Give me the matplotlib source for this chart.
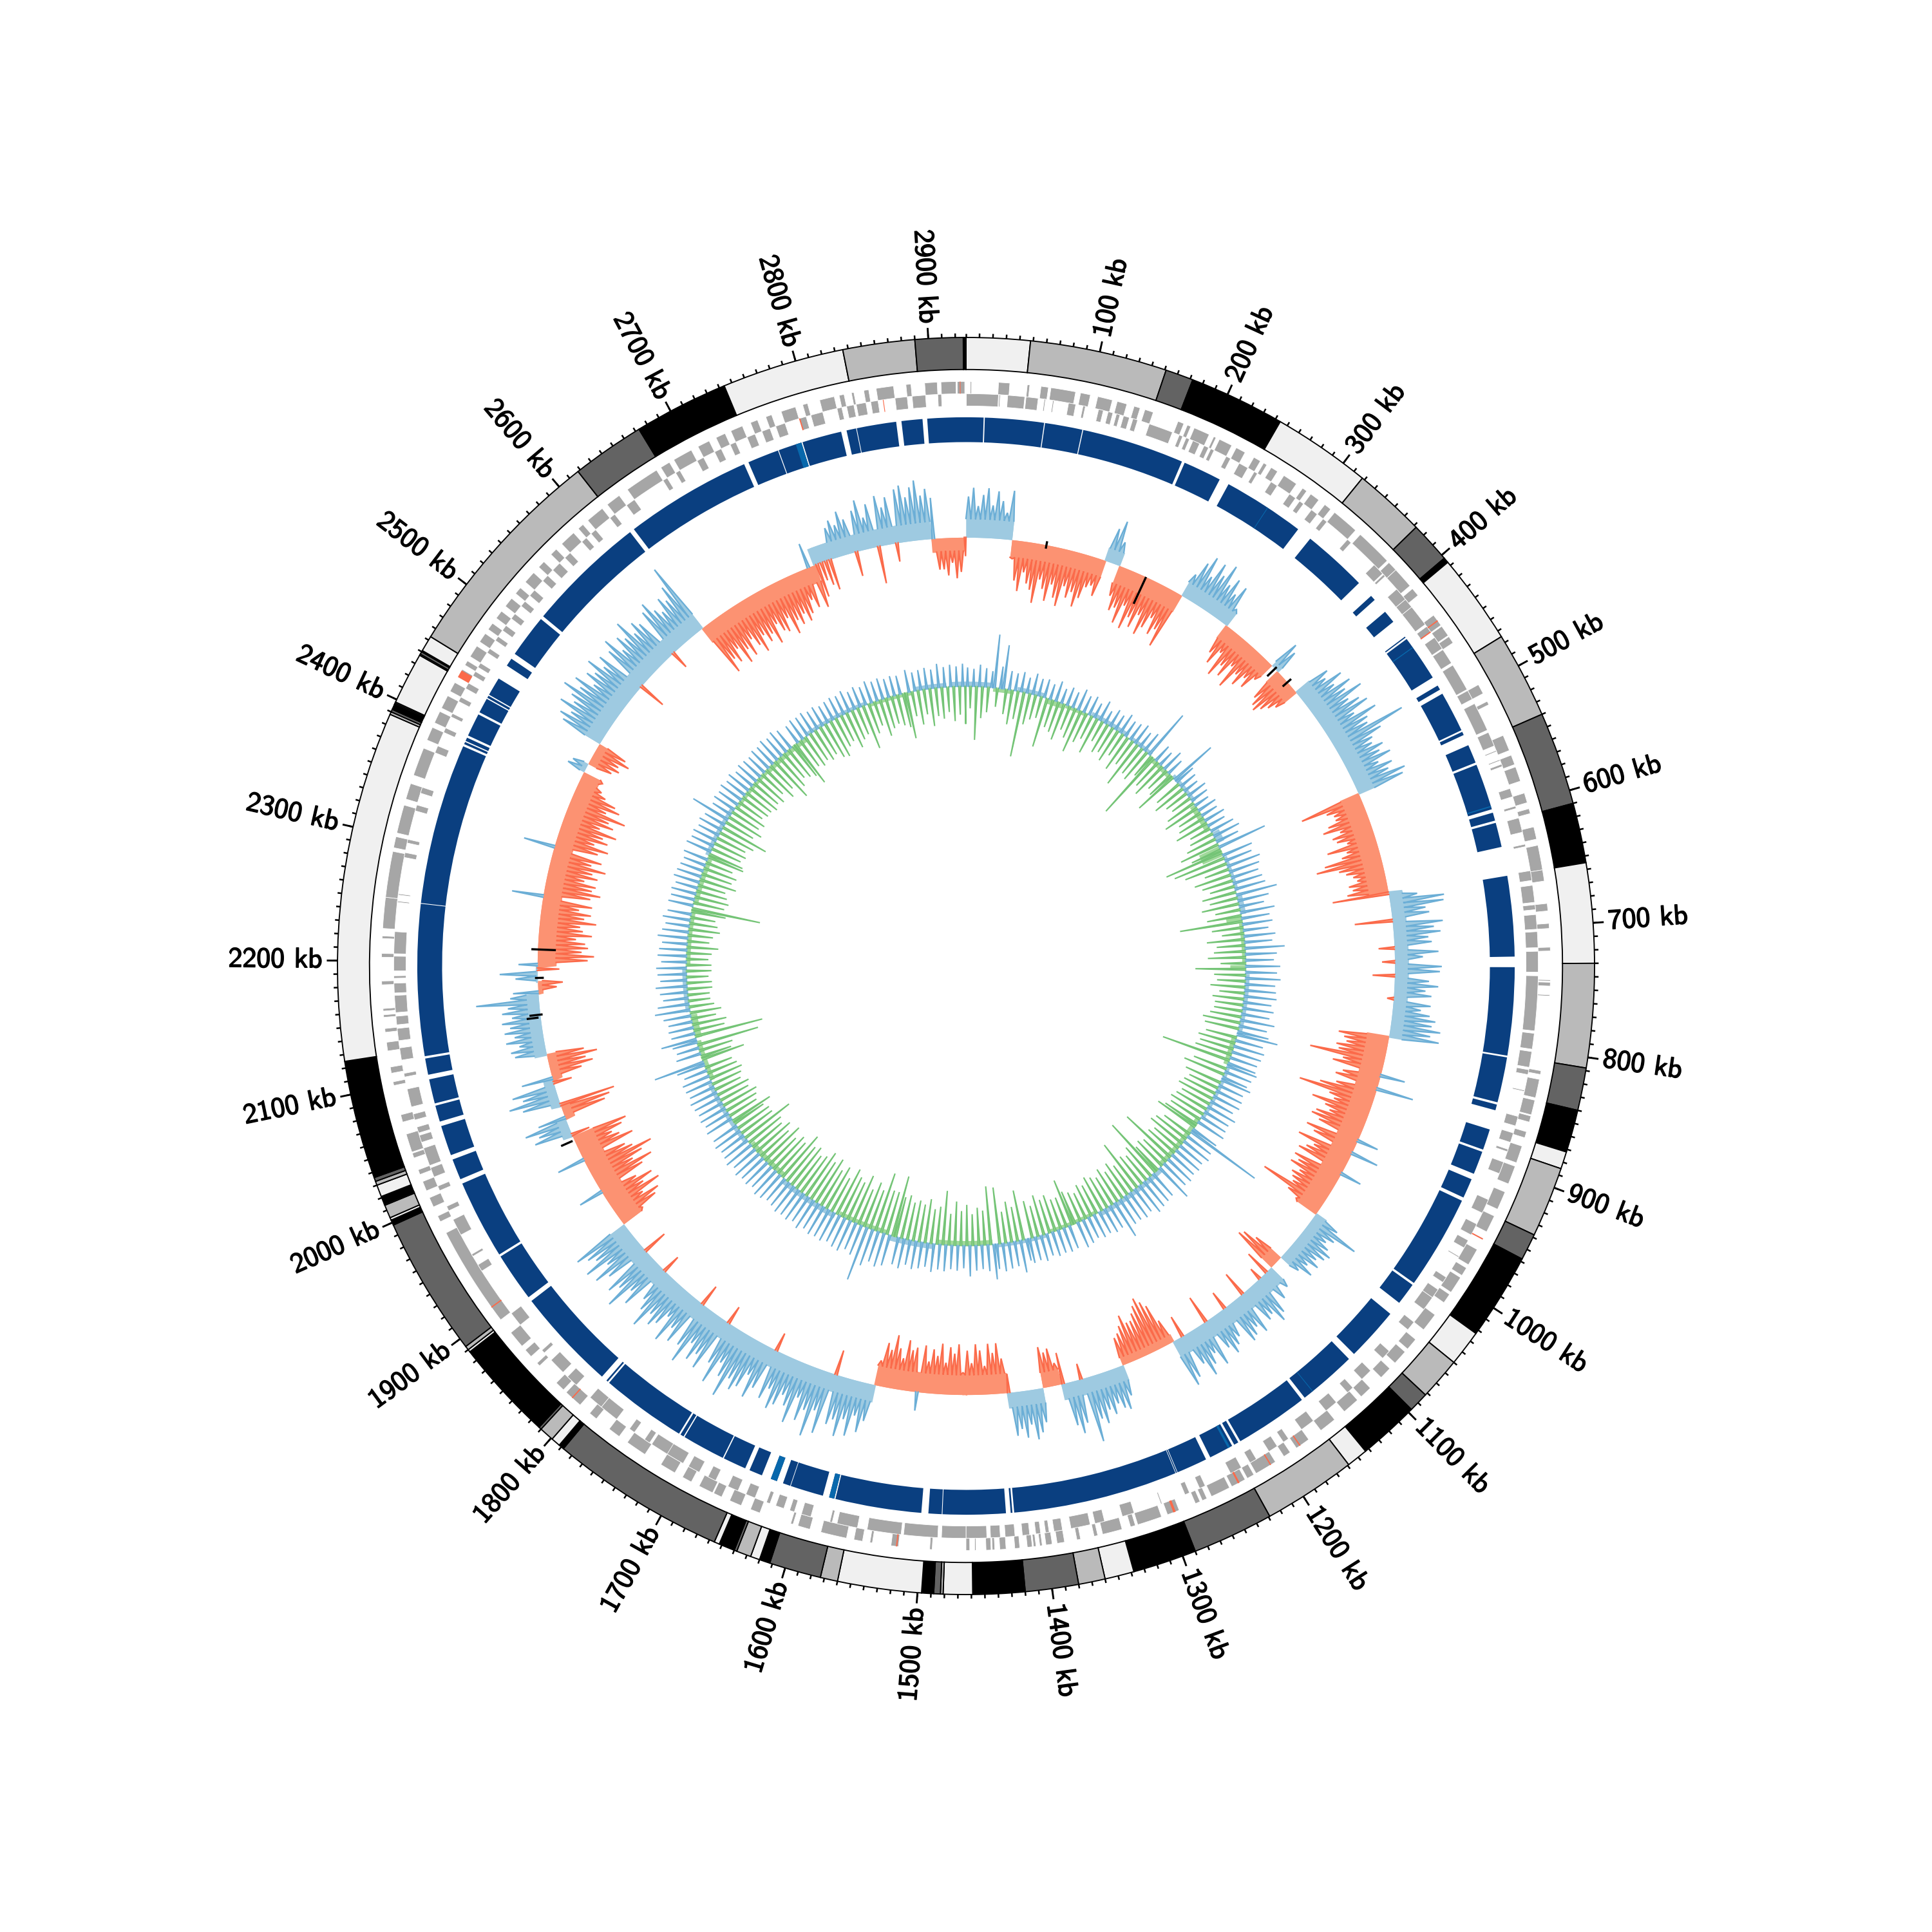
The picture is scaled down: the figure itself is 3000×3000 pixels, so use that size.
import numpy as np
import matplotlib
matplotlib.use("Agg")
import matplotlib.pyplot as plt
import matplotlib.patheffects as pe

GENOME_KB = 2928
WINDOW_KB = 5

# outer grey ring: block end (kb) and shade index
ring_ends = [48,151,172,244,318,372,403,407,475,540,610,655,730,808,840,872,885,938,958,1023,1050,1082,1097,1143,1159,1229,1290,1338,1360,1380,1420,1459,1481,1483,1488,1497,1560,1573,1612,1620,1627,1638,1640,1652,1656,1788,1792,1799,1810,1812,1888,1890,1893,1998,2002,2004,2014,2015,2021,2030,2033,2036,2125,2388,2390,2392,2396,2397,2398,2437,2438,2440,2441,2453,2618,2673,2744,2836,2890,2926,2928]
ring_shade = [0,1,2,3,0,1,2,3,0,1,2,3,0,1,2,3,0,1,2,3,0,1,2,3,0,1,2,3,0,1,2,3,0,1,2,3,0,1,2,3,0,1,2,3,0,2,3,0,1,2,3,0,1,2,3,0,1,2,3,0,1,2,3,0,1,2,3,2,1,0,1,2,3,0,1,2,3,0,1,2,3]
ring_colors = ["#f0f0f0","#bababa","#636363","#000000"]

# gaps in the blue track and the lighter slivers inside it
blue_gaps = [(15,16),(66.6,67.4),(99.6,100.4),(188.5,191),(224,232.5),(303,316),(372,387),(391.6,405),(416,432),(433,434.5),(474,482),(486,490),(525,526.5),(529.5,539),(555,557),(597,600),(607,609),(630,655),(724,733),(808.5,810),(849,851),(856,873),(891,893),(913,918),(935,938),(1019,1021),(1040,1052),(1098,1104),(1154,1157),(1220,1222),(1226,1228),(1249,1253),(1279.5,1280),(1281,1281.5),(1423,1424.5),(1426,1428),(1428,1430),(1484,1484.6),(1496,1502),(1576,1577),(1581.5,1587),(1615.5,1616),(1622.5,1628),(1633.5,1641.6),(1653,1657),(1677,1678),(1715,1716),(1719,1720.5),(1794,1795.5),(1797,1802),(1890,1894),(1936,1938),(2006,2010),(2028,2032),(2058,2062),(2076,2078),(2099,2103),(2117,2119),(2249,2249.6),(2388,2390),(2392,2393),(2396,2398),(2418,2420),(2433,2434),(2436,2437),(2453,2466),(2473,2478),(2515,2518),(2621,2625),(2734,2738),(2765,2765.7),(2786,2787),(2821,2825.7),(2834,2834.6),(2868.5,2873),(2891,2895)]
blue_slivers = [(271,271.6),(443,443.8),(594,595),(1145,1145.6),(1230,1232),(1577,1581.5),(1628,1633.5),(2781,2786)]

forward_genes = [(3.5,4.5),(26,35),(49,51),(60,66),(68,88),(92,100),(106,118),(122,130),(136,141),(145,152),(173,178),(181,184),(187,200),(204,206),(209,220),(224,232),(240,246),(249,252),(256,262),(268,280),(286,290),(294,302),(308,314),(318,340),(345,375),(377,385),(385,402),(405,412),(432,442),(443,452),(453,459),(498,506),(513,516),(543,556),(560,568),(570,582),(592,600),(605,609),(620,630),(635,655),(655,664),(682,688),(698,702),(717,720),(743,744),(745,748),(755,756),(816,819),(823,838),(840,852),(853,858),(866,871),(878,892),(895,910),(917,932),(938,952),(958,959),(968,982),(985,992),(994,1008),(1010,1018),(1030,1045),(1055,1065),(1068,1080),(1086,1096),(1108,1118),(1122,1136),(1146,1160),(1172,1184),(1190,1196),(1204,1222),(1224,1230),(1232,1244),(1246,1262),(1266,1270),(1272,1276),(1290,1300),(1305,1325),(1327,1331),(1338,1354),(1358,1361),(1372,1375),(1385,1391),(1395,1400),(1403,1405),(1408,1410),(1411,1415),(1421,1425),(1432,1437),(1441,1443),(1444,1448),(1456,1457),(1461,1464),(1491,1493),(1518,1524),(1539,1541),(1547,1554),(1560,1581),(1590,1600),(1604,1606),(1632,1640),(1648,1658),(1665,1672),(1673,1685),(1692,1700),(1707,1720),(1735,1752),(1760,1770),(1783,1790),(1800,1815),(1818,1826),(1845,1848),(1855,1862),(1866,1880),(1893,1975),(1985,1990),(1998,2006),(2012,2020),(2026,2030),(2045,2060),(2040,2044),(2070,2076),(2100,2103),(2110,2115),(2128,2135),(2143,2146),(2155,2157),(2160,2162),(2181,2184),(2203,2206),(2218,2220),(2226,2251),(2251,2288),(2291,2300),(2303,2326),(2331,2344),(2351,2374),(2381,2392),(2396,2406),(2409,2420),(2424,2432),(2437,2444),(2448,2452),(2456,2466),(2470,2478),(2482,2488),(2493,2500),(2505,2513),(2518,2524),(2530,2540),(2546,2552),(2560,2566),(2572,2585),(2590,2595),(2600,2615),(2620,2632),(2640,2668),(2672,2680),(2684,2700),(2706,2716),(2722,2730),(2735,2745),(2752,2758),(2765,2770),(2778,2790),(2796,2800),(2810,2822),(2826,2830),(2836,2838),(2846,2850),(2856,2870),(2880,2884),(2895,2905),(2908,2920),(2921,2927)]
reverse_genes = [(0.3,26.5),(27,28),(34,48),(49,59),(64,65),(71,72),(84,90),(96,98),(109,113),(117,121),(124,127),(130,135),(138,142),(152,172),(178,181),(184,187),(190,196),(200,204),(206,209),(220,224),(232,240),(246,249),(262,268),(280,286),(290,294),(302,308),(314,318),(340,344),(370,380),(381,383),(397,408),(408,416),(416,434),(436,442),(447,458),(459,472),(474,497),(498,506),(510,534),(536,548),(552,553),(560,561),(564,566),(585,592),(600,602),(610,622),(632,634),(654,662),(666,680),(682,686),(690,702),(704,717),(720,737),(740,785),(787,800),(802,815),(817,821),(834,835),(856,864),(870,878),(884,886),(895,905),(928,940),(950,960),(965,972),(980,981),(1000,1005),(1012,1020),(1020,1032),(1045,1053),(1076,1084),(1098,1108),(1118,1124),(1136,1147),(1160,1172),(1185,1190),(1196,1204),(1216,1222),(1230,1240),(1263,1268),(1277,1281),(1301,1302),(1325,1335),(1350,1358),(1362,1378),(1385,1392),(1396,1399),(1403,1407),(1412,1418),(1424,1432),(1436,1444),(1447,1464),(1464,1484),(1487,1515),(1517,1545),(1553,1570),(1574,1576),(1592,1600),(1606,1610),(1615,1622),(1627,1630),(1640,1648),(1655,1664),(1675,1682),(1690,1700),(1705,1725),(1720,1735),(1737,1742),(1752,1757),(1770,1786),(1786,1798),(1813,1823),(1828,1842),(1850,1853),(1880,1892),(1934,1940),(1948,1950),(1968,1982),(1990,1994),(2008,2012),(2020,2028),(2030,2045),(2050,2056),(2058,2063),(2069,2074),(2080,2095),(2105,2108),(2119,2129),(2135,2145),(2148,2155),(2158,2172),(2174,2182),(2186,2188),(2192,2204),(2206,2224),(2248,2249),(2254,2255),(2285,2289),(2297,2300),(2324,2329),(2339,2344),(2374,2380),(2392,2396),(2406,2409),(2420,2424),(2432,2437),(2444,2448),(2452,2456),(2466,2470),(2478,2482),(2488,2493),(2500,2505),(2513,2518),(2524,2530),(2540,2546),(2552,2560),(2566,2572),(2585,2590),(2595,2600),(2615,2620),(2632,2640),(2668,2672),(2680,2684),(2700,2706),(2716,2722),(2730,2735),(2745,2752),(2758,2765),(2770,2778),(2790,2796),(2800,2810),(2822,2826),(2830,2836),(2838,2846),(2850,2856),(2870,2880),(2884,2895),(2905,2908)]
red_forward = [(437,438),(958,959),(1180,1181),(1208,1209),(1237,1238.5),(1293,1295),(1519,1520),(1808,1809),(1905,1906),(2437,2443),(2923,2923.6)]
red_reverse = [(441,442),(2790,2791),(2860,2860.6)]

# GC skew: sign regions with a body thickness, and one signed peak per 5 kb
skew_region_ends = [50,153,171,246,303,370,378,408,538,652,808,1018,1080,1095,1228,1289,1360,1380,1418,1563,1895,2006,2027,2042,2072,2098,2166,2178,2197,2415,2425,2450,2618,2758,2890,2926,2928]
skew_region_body = [3.0,-2.8,2.2,-3.0,2.5,-2.5,1,-2.5,2.8,-3.2,2.2,-3.6,2.0,-2.2,2.8,-1.3,2.6,-2.5,2.5,-3.2,2.8,-3.6,1.6,-1.6,1.6,-1.6,2.0,-0.8,0.3,-3.0,0.8,-1.6,2.8,-2.8,2.8,-2.2,0.1]
skew_peaks = [
 6.5,7.9,5,6.8,7.9,5.2,7.5,6,4.2,7.8,-3,-6.4,-8,-4.9,-6.6,-7.5,-9.5,-5.6,-7,-8.8,
 -6,-8,-9.2,-5.8,-7.5,-6.4,-8.6,-7,-5,-4.5,-6,5.5,7,3.8,-5,-7.2,-6.5,-8.8,-5.6,-9.2,
 -7,-8.4,-6,-9,-7.5,-5.5,-8,-6.8,-9.4,4,6.5,8,5,7.8,6.2,8.5,5.5,7,4.8,6.6,
 3,-5,-6.5,-4,-7.8,-5.5,-7,-4.5,-8,-5,-6.5,-4.5,-5.8,-3.5,5,4,-5.5,-6.5,-7,-6,
 -5,-4,6,5,7.5,5.5,8,6.5,9,6,7.5,8.5,5.5,9,7,6.5,12.4,8,6,5.5,
 7,6,7.5,5,7,6,8.5,7.8,-10,-6,-5,-5,-6.5,-7.6,-5,-6.5,-6,-4.5,-8,-5,
 -6,-9,-10.5,-7,-6,-5,-4.5,-6,-5.5,-6.5,-9,4.5,8.7,8.5,5.5,6,-6,8,6.5,7.5,
 5.5,6,-2.5,7,4.5,-2,7.5,7.2,-3.5,5.5,7,5,6,-1,6,4.5,6,7,6.5,8,
 6.5,8,-8,-7,-6.5,-8,-7.5,-12,-6.5,-8,4,-6,-7,6,-6.5,-9,-12.2,-7,-6,-9.4,
 -7,-6,-8,-8.5,-7,3.5,-8.5,-7,4.5,-9,-6,-7,-8,3.5,-8,-7,-8,-6,-7,-6.5,
 -6,-11,-6,-4,4.5,8.5,5,4,5,6,5.5,4.5,5.5,4,5.5,3.5,-5,-7,-7.5,4,
 -4,5,-2,6.5,7.5,5.5,6,-4,7,5.5,6.5,7,-3,5,6,7,5.5,-4.5,7.5,5,
 6.5,8,5.5,-3.5,7,8,-4,-7,-8,-9,-8,-7,-6,-6,-7.5,-6,-5,-4.5,5,7,
 6.5,5.5,7,6,8,7,10.5,-2.5,7,8.5,7,-5,-3.5,-6,-5.5,-6.5,5.5,7,8,5.5,
 7.5,6,7,-3,-5.5,-8,-6.5,-8,-4.5,-7,-8,-5,-7,-3.5,-8,-6.5,-7.5,-5,-8,-6,
 -7,-5,-7.5,3,-7,-6.5,-8,-5,-6.5,-8.5,-6,-7,-4,6,8,5.5,9,6.5,9.5,7,
 8,-4,10,6.5,11,7,9,5.5,10,7.5,6,8,9,6,8,-3,7,9,5.5,8,
 9,7.5,11,8,6,10,7,-3,9,7,8.5,6,10,7.5,-3.5,8,6,9,5,7,
 8,6.5,9.5,7,5.5,-3,8,6,10,7,8.5,-4,7,9,6,9.5,7,8,9.5,-4,
 -7,-8,-5.5,-9,-6.5,-8.5,-6,4,-8,-10,-7,-9,-11,-8,-7,4.5,-9,-7,-6,-8,
 -9,-3,6,5,7,4.5,-7,-8,-9,6,8,5.5,7,-3,5,-5,-7,-6,-8,-6,
 5,5.5,4,6,4.5,6,5,6.2,4.5,6,5,10,4.5,4,-3,-4,3.5,6,-3.5,3,
 -8,-9,-7,-8,-7.5,-6,-8.5,-7,-6.5,-9,-7,-8,-6,-8,5,-7.5,-9,-7.5,-8,-6,
 -8,-7,-9,-6.5,-8,5,-7,-8.5,-6,-8,-7,-9,-6,-8,-7,-9.5,-6,-8,-7,-5,
 -4,-3,-3.5,3,2.5,-4,-5,-4.5,-6,-5,7,8,6.5,9,7,8,10,7.5,9,6,
 8,7,9,6.5,8,-4.5,7.5,9,6,8,7,9.5,6.5,8,7,-3,8,9,7,6,
 8,7,9,12,-9,-7,-8,-6,-9,-7,-8.5,-6,-7.5,-9,-6.5,-8,-7,-9,-6,-7.5,
 -8,-6,-9,-7,-8,-6.5,-8,-7,-5,-6.5,4,-7,-5.5,-3,-4,-5,5,6,5,7,
 5.5,-4,6.5,8,5,7,-6,8,6,7.5,-3,8.5,9,7,8.5,9.5,7,8,6.5,-5,
 -5,-6,-4,-6.5,-5.5,-3]

# black marks on the skew track: position and inner/outer radius
mark_kb = [88,202,375,395,2140,2143,2183,2214,2001]
mark_r0 = [67.6,63.5,66.5,67.2,68.5,67.8,67.2,65.3,68.5]
mark_r1 = [68.8,68.2,68.6,69.0,70.4,69.9,68.6,69.2,70.5]

# GC content: one signed peak per 5 kb
gc_peaks = [
 3,-3.5,2.8,-8.5,3.5,-5,3,-4,2.6,8.5,-3,3.5,7,-4,3,-5.5,2.8,-4.5,3.2,-10.4,
 2.5,-5,3.4,-4,2.8,-3.5,3,-8,2.5,-4.5,3.3,-5,2.4,-6,3,-4,2.6,-5,3.5,-7,
 2.8,-5,3.2,-4,2.5,-6,3.4,-3.5,2.2,-5,3,-4.5,2.6,-5.5,3.4,-4,2.8,-6,3,-4.5,
 3.5,-7.7,2.8,-5,3.4,-5.5,8.2,-4,-11.3,3,-5,2.6,-6,3.6,-4,2.8,-4.5,-7.2,7.7,3.4,
 -4.5,3,-5.5,2.6,-4,3.4,-3.5,3,-5,2.5,-6,3.2,-4,2.8,-4.5,3.5,-5.5,3,-3.5,4,
 -4,4.5,-5,3.8,-6.5,8,-5,-9.6,5,-8.5,4.5,-7,5.5,-4,5,-6,4.5,-5,4.8,-4,
 5,-5.5,6.6,-4.5,5,-6,4,-4,5.5,-5.5,4.5,-10,4.8,-5,4,-3.5,5,-6,4.4,-4.5,
 6.3,-5,5,-6,4.5,-4,5.5,-8,5,-5,5.6,-4.5,4.8,-5.5,5,-4,5.2,-5,4.5,-4.5,
 5,-4.5,4.5,-5,5.5,-6,4.5,-5.5,5,6.6,-5,4.5,-6,5,-5.5,4.8,-6,4.5,-11.2,4.6,
 5,-5.5,4.5,-6.8,4.2,5,-6,4.2,-5,4.5,-5.5,4.6,-6,4,-5,5,-5.5,4.4,-6,4.5,
 -5.5,4.8,-6,-7.1,4.5,12.5,-5,4.6,-6,5,-6.4,4.5,-5,4.8,-5.5,4.6,-9.4,5,-5,4.8,
 -5.5,6.3,-5,-10.1,4.6,-6,4.8,-5,5,-5.5,5.3,-8.5,4.4,-5,4.8,-6,4.5,-5,4.6,-6,
 6.2,-5,4,-5.5,4.2,-6,3.8,-5,4,-5.5,3.6,-4.5,4,-5,4.3,-5.5,-7.6,3.8,-5,4,
 -5,3.8,-6,4,-5.5,3.6,-6.5,4.2,-5,3.8,-6,4,3.5,-8,5.2,-5.5,4,-6.5,4.2,-5,
 4.5,-9,4,5.6,-9.3,4.2,-5.5,3.8,-6,4,-5,4.9,-6.5,3.6,-5.5,4,-7,3.8,-5,4.2,
 -8.6,4,-6,4.5,-5.5,3.8,-7,4.2,-6,4.5,-6.5,4,-6,4.8,-7,4.4,-6.5,-9.8,5,-7,
 5.5,-7,5,-9.6,6,-6.5,8.8,-7.5,5,-6,4.5,-8,5.2,-6.5,5,-7,4.6,-8,5,-6,
 4.8,-7.5,5,-6.5,4.6,-8,5.2,-7,4.6,-8.2,5,-7,4.8,-6.5,5,-7.5,4.6,-7,4.4,-8.5,
 4.8,-6.5,5,-7,4.4,-6,4.8,-7.5,4.6,-6,5,-7,4.4,-6,5,-6.5,4.6,-8.8,4.4,-6,
 4.8,-6,4.4,-5.5,-7,4.6,-5,4.2,-5.5,4.5,-6,4.2,-5,4.4,-5.5,4.6,-4.5,4.2,-5,4.4,
 -5.5,4.5,-5,3.8,-4.5,4.6,8.2,-7,-5,4,-5.5,3.6,-10,4,5.7,-11,3.8,-5,4,-5.5,
 3.8,-4,4.4,-5,5.6,-4,5,-3.5,4,-3.5,4.4,-4,5,-4,4.2,-3.5,4.6,-4,4.8,-4,
 4,-3.5,4.6,-4,4.4,-5,4,-3.5,4.8,-4,4.2,-5,3.8,-4.5,4.4,-4,3.8,-5.5,-11,4,
 -5,3.8,-5.5,4,-5,3.6,-4.5,4.2,-6,4,-5,3.8,-5.5,3.6,-4.5,4,-6,-5.7,4.2,-5,
 3.8,-5.5,4,-5,3.6,-6,4,-7.8,3.6,-5,6.4,-6,3.4,-5,3.8,-5.5,3.6,-4.5,4,-5,
 3.6,-5,4,-5.5,3.4,-5,3.8,-5.5,3.6,-4.5,3.4,-6,3.8,-5,3.6,-7.4,4,-6,3.6,-5,
 4,-5.5,3.5,-6,-7.6,3.2,-5,3.6,-5.5,3.4,-5,3.6,-5.5,3.2,-5,3.4,-6,3,-6.3,3.2,
 -5,3.4,-4.5,3.2,-6,3.6,-5,3,-4.5,3.4,-7.2,3,-5,3.6,-4,3.2,-6,3.4,-5,3,
 -4.5,3.2,-5,3,-5.5,-7.4,3.6,-4,3,-5.5,3.2,-4,3.4,-6,3,-4.5,3.8,-5,3.2,-4,
 3.5,-5.5,3.2,-4.5,3.6,-6]
# GC content: slow sections that show as a light band by the baseline
gc_body_starts = [0,45,85,135,170,215,290,340,385,445,500,525,545,610,648,660,730,745,850,905,1000,1105,1240,1330,1420,1520,1600,1690,1800,1880,2000,2075,2120,2200,2300,2385,2480,2560,2650,2760,2840,2900]
gc_body_ends =   [40,80,130,165,210,285,335,380,440,495,520,543,605,645,658,725,738,845,900,995,1100,1235,1325,1415,1515,1595,1685,1795,1875,1995,2070,2115,2195,2295,2380,2475,2555,2645,2755,2835,2895,2928]
gc_body_depth =  [0.8,-0.6,0.7,-0.8,-0.5,0.7,0.6,-0.7,0.6,-0.9,1.2,-3.5,0.5,0.8,-2.5,-0.6,-2.5,0.6,-0.8,0.5,-0.8,0.7,-0.6,0.5,-0.8,0.8,-0.7,0.8,-0.8,0.7,-0.7,-1,0.7,-0.6,-0.7,0.7,-0.5,-0.7,0.6,-0.5,0.7,0.8]

TICK_KB = np.arange(0, GENOME_KB, 10)
LABEL_KB = np.arange(100, 3000, 100)

R_RING = (94.9, 100.0)
R_FWD = (91.05, 93.0)
R_REV = (89.1, 91.05)
R_BLUE = (83.35, 87.3)
R_SKEW = 68.2
R_GC = 44.5
PX_R100 = 976.0
R_LIMIT = 130.0
SKEW_HALF = 2.5
SKEW_HALF_CROSS = 1.4
GC_HALF = 1.6


def to_theta(kb):
    return 2 * np.pi * np.asarray(kb, dtype=float) / GENOME_KB


def bars(ax, spans, rr, color, **kw):
    a = np.array(spans, dtype=float)
    ax.bar(to_theta(a[:, 0]), rr[1] - rr[0], width=to_theta(a[:, 1] - a[:, 0]), bottom=rr[0],
           align="edge", color=color, linewidth=kw.pop("linewidth", 0), **kw)


def spike_track(ax, centres, floor, peaks, half, base, col_pos, fill_pos, col_neg, fill_neg, lw):
    """One triangle per window, from the section's floor out to the peak."""
    floor = np.asarray(floor, dtype=float)
    peaks = np.asarray(peaks, dtype=float)
    half = np.broadcast_to(half, peaks.shape)
    for sign, col, fill in ((-1, col_neg, fill_neg), (1, col_pos, fill_pos)):
        fl = np.maximum(sign * floor, 0)
        pk = np.where(sign * peaks > fl, sign * peaks, fl)
        x = np.empty(3 * len(peaks))
        x[0::3], x[1::3], x[2::3] = centres - half, centres, centres + half
        y = np.empty(3 * len(peaks))
        y[0::3], y[1::3], y[2::3] = fl, pk, fl
        x = np.clip(x, 0, GENOME_KB)
        ax.fill_between(to_theta(x), base, base + sign * y, color=fill, linewidth=0, zorder=3)
        lx = np.empty(4 * len(peaks))
        ly = np.empty(4 * len(peaks))
        lx[0::4], lx[1::4], lx[2::4], lx[3::4] = x[0::3], x[1::3], x[2::3], np.nan
        ly[0::4], ly[1::4], ly[2::4], ly[3::4] = y[0::3], y[1::3], y[2::3], np.nan
        show = np.repeat(pk > fl, 4)
        ly = np.where(show, base + sign * ly, np.nan)
        ax.plot(to_theta(lx), ly, color=col, lw=lw, zorder=4, solid_joinstyle="miter")


assert len(skew_peaks) == 586 and len(gc_peaks) == 586, (len(skew_peaks), len(gc_peaks))
assert len(ring_ends) == len(ring_shade), (len(ring_ends), len(ring_shade))
assert len(skew_region_ends) == len(skew_region_body)
assert len(gc_body_starts) == len(gc_body_ends) == len(gc_body_depth)

fig = plt.figure(figsize=(10, 10), dpi=300, facecolor="white")
half_ax = PX_R100 * R_LIMIT / R_RING[1] / 3000
ax = fig.add_axes([0.5 - half_ax, 0.5 - half_ax, 2 * half_ax, 2 * half_ax], projection="polar")
ax.set_theta_zero_location("N")
ax.set_theta_direction(-1)
ax.set_ylim(0, R_LIMIT)
ax.axis("off")

# outer ring
starts = [0] + ring_ends[:-1]
bars(ax, list(zip(starts, ring_ends)), R_RING, [ring_colors[s] for s in ring_shade],
     edgecolor="black", linewidth=0.45)

# ticks and labels
ax.vlines(to_theta(TICK_KB), 100, 100.65, color="black", lw=0.6)
ax.vlines(to_theta(LABEL_KB), 100, 101.7, color="black", lw=0.7)
for kb in LABEL_KB:
    deg = 360 * kb / GENOME_KB
    right = deg < 180
    t = ax.text(to_theta(kb), 102.4, f"{kb} kb", family="cmss10", fontsize=10.5, color="black",
                rotation=(90 - deg) if right else (270 - deg), rotation_mode="anchor",
                ha="left" if right else "right", va="center")
    t.set_path_effects([pe.withStroke(linewidth=0.35, foreground="black")])

# genes
bars(ax, forward_genes, R_FWD, "#a6a6a6", edgecolor="white", linewidth=0.2)
bars(ax, reverse_genes, R_REV, "#a6a6a6", edgecolor="white", linewidth=0.2)
bars(ax, red_forward, R_FWD, "#fb6a4a")
bars(ax, red_reverse, R_REV, "#fb6a4a")

# blue track
edges = [0.0]
for g0, g1 in blue_gaps:
    edges += [g0, g1]
edges.append(GENOME_KB)
bars(ax, [(edges[i], edges[i + 1]) for i in range(0, len(edges), 2)], R_BLUE, "#0a3f80")
bars(ax, blue_slivers, R_BLUE, "#0868ac")

# GC skew
n = len(skew_peaks)
centres = np.arange(n) * WINDOW_KB + WINDOW_KB / 2
body_at = np.array(skew_region_body)[np.searchsorted(skew_region_ends, centres, side="right").clip(0, len(skew_region_ends) - 1)]
region_starts = [0] + skew_region_ends[:-1]
for s, e, d in zip(region_starts, skew_region_ends, skew_region_body):
    t = to_theta(np.r_[np.arange(s, e, WINDOW_KB), e])
    ax.fill_between(t, R_SKEW, R_SKEW + d, color="#9ecae1" if d > 0 else "#fc9272", linewidth=0, zorder=3)
# a peak against the section's sign stays a thin stroke
against = np.sign(skew_peaks) != np.sign(body_at)
skew_half = np.where(against, SKEW_HALF_CROSS, SKEW_HALF)
spike_track(ax, centres, body_at, skew_peaks, skew_half, R_SKEW, "#6baed6", "#9ecae1", "#fb6a4a", "#fc9272", 0.55)
ax.vlines(to_theta(mark_kb), mark_r0, mark_r1, color="black", lw=0.8, zorder=5)

# GC content
for s, e, d in zip(gc_body_starts, gc_body_ends, gc_body_depth):
    t = to_theta(np.r_[np.arange(s, e, WINDOW_KB), e])
    ax.fill_between(t, R_GC, R_GC + d, color="#9ecae1" if d > 0 else "#a1d99b", linewidth=0, zorder=3)
spike_track(ax, centres, np.zeros(n), gc_peaks, GC_HALF, R_GC, "#6baed6", "#9ecae1", "#74c476", "#a1d99b", 0.5)

fig.savefig("out.png", dpi=300, facecolor="white")
